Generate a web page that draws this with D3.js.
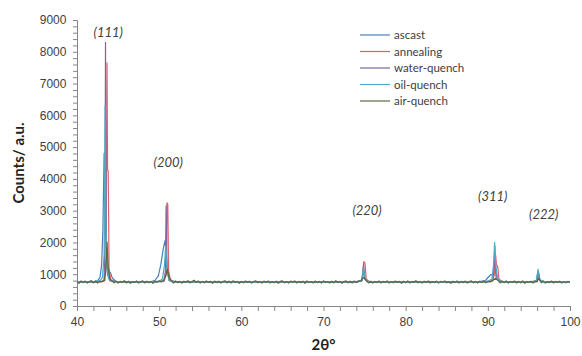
<!DOCTYPE html>
<html>
<head>
<meta charset="utf-8">
<script src="https://cdn.jsdelivr.net/npm/d3@7"></script>
<style>
  body { margin: 0; background: #fff; }
  svg { display: block; }
</style>
</head>
<body>
<svg id="chart"></svg>
<script>
// XRD patterns, [2theta, counts]
const ascast = [
  [40, 745], [41, 765], [42, 755], [42.5, 790], [42.8, 900], [43.0, 1300], [43.15, 2400], [43.3, 4800],
  [43.45, 3000], [43.6, 1500], [43.8, 1050], [44.05, 1060], [44.3, 880], [44.7, 780], [45, 760],
  [46, 745], [47, 770], [48, 750], [49, 760], [49.5, 810], [49.9, 950], [50.2, 1300], [50.5, 1800],
  [50.7, 2050], [50.85, 1700], [51.0, 1100], [51.3, 850], [51.7, 770], [52, 750], [53, 765], [54, 745],
  [55, 770], [56, 740], [57, 760], [58, 750], [59, 775], [60, 745], [61, 760], [62, 740], [63, 770],
  [64, 750], [65, 760], [66, 740], [67, 765], [68, 755], [69, 745], [70, 770], [71, 750], [72, 760],
  [73, 740], [74, 765], [74.6, 800], [74.85, 1050], [75.1, 830], [75.5, 760], [76, 745], [77, 765],
  [78, 740], [79, 760], [80, 750], [81, 770], [82, 745], [83, 760], [84, 740], [85, 765], [86, 750],
  [87, 760], [88, 740], [89, 765], [89.7, 800], [90.1, 920], [90.4, 990], [90.7, 950], [90.85, 1900],
  [91.0, 900], [91.3, 800], [91.8, 760], [92, 750], [93, 765], [94, 740], [95, 760], [95.9, 780],
  [96.1, 1100], [96.3, 800], [97, 745], [98, 765], [99, 740], [100, 745]
];
const annealing = [
  [40, 755], [41, 740], [42, 765], [43, 760], [43.4, 800], [43.55, 1600], [43.65, 7650], [43.72, 4300],
  [43.8, 4250], [43.9, 1200], [44.1, 820], [45, 750], [46, 765], [47, 740], [48, 760], [49, 750],
  [50, 765], [50.6, 780], [50.85, 1000], [50.95, 3250], [51.05, 3200], [51.15, 1100], [51.4, 800],
  [52, 760], [53, 745], [54, 770], [55, 750], [56, 760], [57, 740], [58, 765], [59, 750], [60, 760],
  [61, 745], [62, 770], [63, 740], [64, 760], [65, 750], [66, 765], [67, 740], [68, 760], [69, 750],
  [70, 765], [71, 745], [72, 760], [73, 740], [74, 765], [74.7, 800], [74.9, 1400], [75.05, 1350],
  [75.2, 850], [75.6, 760], [76, 750], [77, 765], [78, 745], [79, 760], [80, 740], [81, 770], [82, 750],
  [83, 760], [84, 745], [85, 765], [86, 740], [87, 760], [88, 750], [89, 765], [90, 760], [90.6, 800],
  [90.8, 1000], [90.95, 1600], [91.05, 1300], [91.2, 1250], [91.35, 850], [91.7, 770], [92, 750],
  [93, 765], [94, 740], [95, 760], [96, 770], [96.2, 1000], [96.35, 800], [97, 750], [98, 760],
  [99, 745], [100, 750]
];
const waterQuench = [
  [40, 750], [41, 765], [42, 745], [43, 770], [43.3, 820], [43.4, 2000], [43.47, 8300], [43.55, 2500],
  [43.7, 1000], [44, 790], [45, 760], [46, 745], [47, 765], [48, 750], [49, 760], [50, 770], [50.6, 800],
  [50.75, 1100], [50.85, 3150], [50.95, 1200], [51.2, 800], [52, 760], [53, 750], [54, 765], [55, 745],
  [56, 760], [57, 750], [58, 770], [59, 740], [60, 760], [61, 750], [62, 765], [63, 745], [64, 760],
  [65, 740], [66, 765], [67, 750], [68, 760], [69, 745], [70, 770], [71, 750], [72, 760], [73, 745],
  [74, 760], [74.7, 800], [74.88, 1300], [75.05, 850], [75.5, 760], [76, 745], [77, 760], [78, 750],
  [79, 765], [80, 745], [81, 760], [82, 750], [83, 770], [84, 740], [85, 760], [86, 750], [87, 765],
  [88, 745], [89, 760], [90, 770], [90.6, 800], [90.85, 1500], [91.0, 1000], [91.3, 800], [92, 760],
  [93, 750], [94, 765], [95, 745], [96, 770], [96.18, 1050], [96.35, 800], [97, 760], [98, 745],
  [99, 760], [100, 750]
];
const oilQuench = [
  [40, 760], [41, 745], [42, 770], [42.8, 790], [43.1, 900], [43.3, 1600], [43.42, 6300], [43.52, 2600],
  [43.65, 1200], [43.9, 850], [44.3, 780], [45, 760], [46, 750], [47, 765], [48, 745], [49, 760],
  [50, 780], [50.4, 850], [50.65, 1300], [50.8, 1900], [50.95, 1100], [51.2, 820], [52, 760],
  [53, 750], [54, 765], [55, 745], [56, 760], [57, 770], [58, 745], [59, 760], [60, 750], [61, 765],
  [62, 745], [63, 760], [64, 750], [65, 770], [66, 745], [67, 760], [68, 750], [69, 765], [70, 745],
  [71, 760], [72, 750], [73, 765], [74, 745], [74.65, 800], [74.85, 1200], [75.0, 900], [75.3, 780],
  [76, 760], [77, 745], [78, 765], [79, 750], [80, 760], [81, 745], [82, 765], [83, 750], [84, 760],
  [85, 745], [86, 770], [87, 750], [88, 760], [89, 745], [90, 780], [90.5, 850], [90.7, 1300],
  [90.82, 2000], [90.95, 1300], [91.2, 850], [91.6, 770], [92, 760], [93, 745], [94, 765], [95, 750],
  [95.9, 790], [96.12, 1150], [96.3, 820], [97, 760], [98, 745], [99, 760], [100, 740]
];
const airQuench = [
  [40, 760], [40.25, 715], [40.5, 790], [40.75, 735], [41, 785], [41.25, 720], [41.5, 770], [41.75, 800],
  [42, 730], [42.25, 790], [42.5, 725], [42.75, 780], [43, 770], [43.3, 800], [43.5, 1100], [43.65, 2000],
  [43.8, 1200], [44, 850], [44.25, 790], [44.5, 730], [44.75, 785], [45, 720], [45.25, 775], [45.5, 745],
  [45.75, 795], [46, 725], [46.25, 780], [46.5, 715], [46.75, 770], [47, 740], [47.25, 790], [47.5, 720],
  [47.75, 765], [48, 790], [48.25, 725], [48.5, 780], [48.75, 730], [49, 775], [49.25, 715], [49.5, 785],
  [49.75, 750], [50, 790], [50.25, 760], [50.5, 790], [50.8, 950], [51.0, 1150], [51.2, 900],
  [51.5, 780], [51.75, 725], [52, 790], [52.25, 735], [52.5, 775], [52.75, 720], [53, 780], [53.25, 745],
  [53.5, 795], [53.75, 725], [54, 770], [54.25, 810], [54.5, 745], [54.75, 790], [55, 720], [55.25, 770],
  [55.5, 730], [55.75, 790], [56, 740], [56.25, 775], [56.5, 715], [56.75, 785], [57, 735], [57.25, 780],
  [57.5, 720], [57.75, 770], [58, 795], [58.25, 730], [58.5, 780], [58.75, 725], [59, 790], [59.25, 740],
  [59.5, 775], [59.75, 715], [60, 770], [60.25, 730], [60.5, 790], [60.75, 745], [61, 780], [61.25, 720],
  [61.5, 770], [61.75, 795], [62, 730], [62.25, 775], [62.5, 720], [62.75, 785], [63, 740], [63.25, 790],
  [63.5, 725], [63.75, 770], [64, 735], [64.25, 780], [64.5, 715], [64.75, 775], [65, 790], [65.25, 730],
  [65.5, 770], [65.75, 720], [66, 785], [66.25, 745], [66.5, 790], [66.75, 725], [67, 775], [67.25, 735],
  [67.5, 780], [67.75, 715], [68, 790], [68.25, 740], [68.5, 770], [68.75, 725], [69, 785], [69.25, 735],
  [69.5, 775], [69.75, 720], [70, 790], [70.25, 745], [70.5, 770], [70.75, 725], [71, 780], [71.25, 730],
  [71.5, 795], [71.75, 740], [72, 775], [72.25, 715], [72.5, 770], [72.75, 790], [73, 730], [73.25, 780],
  [73.5, 725], [73.75, 785], [74, 740], [74.25, 775], [74.5, 790], [74.9, 900], [75.2, 790],
  [75.5, 725], [75.75, 780], [76, 720], [76.25, 770], [76.5, 735], [76.75, 790], [77, 725], [77.25, 775],
  [77.5, 745], [77.75, 790], [78, 720], [78.25, 770], [78.5, 730], [78.75, 785], [79, 740], [79.25, 775],
  [79.5, 715], [79.75, 780], [80, 735], [80.25, 790], [80.5, 725], [80.75, 770], [81, 745], [81.25, 795],
  [81.5, 730], [81.75, 775], [82, 720], [82.25, 780], [82.5, 740], [82.75, 790], [83, 725], [83.25, 770],
  [83.5, 735], [83.75, 785], [84, 720], [84.25, 775], [84.5, 745], [84.75, 790], [85, 730], [85.25, 770],
  [85.5, 715], [85.75, 780], [86, 740], [86.25, 790], [86.5, 725], [86.75, 775], [87, 735], [87.25, 785],
  [87.5, 720], [87.75, 770], [88, 790], [88.25, 730], [88.5, 775], [88.75, 720], [89, 780], [89.25, 740],
  [89.5, 790], [89.75, 730], [90, 775], [90.3, 760], [90.6, 800], [90.9, 870], [91.3, 790],
  [91.5, 725], [91.75, 780], [92, 735], [92.25, 790], [92.5, 720], [92.75, 770], [93, 745], [93.25, 785],
  [93.5, 725], [93.75, 775], [94, 730], [94.25, 790], [94.5, 715], [94.75, 770], [95, 740], [95.25, 780],
  [95.5, 725], [95.75, 785], [96, 770], [96.2, 880], [96.4, 780], [96.5, 730], [96.75, 775], [97, 720],
  [97.25, 770], [97.5, 735], [97.75, 785], [98, 725], [98.25, 775], [98.5, 740], [98.75, 780], [99, 720],
  [99.25, 765], [99.5, 730], [99.75, 775], [100, 740]
];

const seriesNames = ["ascast", "annealing", "water-quench", "oil-quench", "air-quench"];
const seriesData = [ascast, annealing, waterQuench, oilQuench, airQuench];
const seriesColors = ["#4a7ebb", "#e0606a", "#8064a2", "#4bacc6", "#5a6a3e"];

const peakLabels = ["(111)", "(200)", "(220)", "(311)", "(222)"];
const peakPos = [[43.8, 8450], [51.1, 4380], [75.3, 2870], [90.6, 3300], [96.8, 2740]];

const xTicks = [40, 50, 60, 70, 80, 90, 100];
const yTicks = [0, 1000, 2000, 3000, 4000, 5000, 6000, 7000, 8000, 9000];

const width = 582;
const height = 356;
const margin = {top: 20, right: 12, bottom: 50, left: 77};

const svg = d3.select("#chart")
  .attr("width", width)
  .attr("height", height)
  .attr("font-family", "Lato, 'Open Sans', sans-serif");

const x = d3.scaleLinear([40, 100], [margin.left, width - margin.right]);
const y = d3.scaleLinear([0, 9000], [height - margin.bottom, margin.top]);

// x axis with minor ticks every 2 degrees
const xAxis = svg.append("g")
  .attr("transform", `translate(0,${y(0)})`)
  .call(d3.axisBottom(x).tickValues(d3.range(40, 101, 2)).tickSize(5)
    .tickFormat(d => xTicks.includes(d) ? d : ""));
xAxis.select(".domain").attr("stroke", "#868686");
xAxis.selectAll(".tick line").attr("stroke", "#868686");
xAxis.selectAll("text").attr("fill", "#404040").attr("font-size", 12).attr("dy", "1em");

// y axis with minor ticks every 200
const yAxis = svg.append("g")
  .attr("transform", `translate(${x(40)},0)`)
  .call(d3.axisLeft(y).tickValues(d3.range(0, 9001, 200)).tickSize(4)
    .tickFormat(d => yTicks.includes(d) ? d : ""));
yAxis.select(".domain").attr("stroke", "#868686");
yAxis.selectAll(".tick line").attr("stroke", "#868686");
yAxis.selectAll("text").attr("fill", "#404040").attr("font-size", 12).attr("dx", "-0.3em");

const line = d3.line()
  .x(d => x(d[0]))
  .y(d => y(d[1]));

seriesData.forEach((s, i) => {
  svg.append("path")
    .datum(s)
    .attr("fill", "none")
    .attr("stroke", seriesColors[i])
    .attr("stroke-width", 1.2)
    .attr("stroke-linejoin", "round")
    .attr("d", line);
});

// peak labels
peakLabels.forEach((t, i) => {
  svg.append("text")
    .attr("x", x(peakPos[i][0]))
    .attr("y", y(peakPos[i][1]))
    .attr("text-anchor", "middle")
    .attr("font-style", "italic")
    .attr("font-size", 13)
    .attr("fill", "#404040")
    .text(t);
});

// legend
const legend = svg.append("g").attr("transform", "translate(360,35)");
seriesNames.forEach((name, i) => {
  const g = legend.append("g").attr("transform", `translate(0,${i * 16.5})`);
  g.append("line")
    .attr("x1", 0).attr("x2", 30)
    .attr("stroke", seriesColors[i])
    .attr("stroke-width", 1.2);
  g.append("text")
    .attr("x", 34)
    .attr("dy", "0.35em")
    .attr("font-size", 11.5)
    .attr("fill", "#404040")
    .text(name);
});

// axis titles
svg.append("text")
  .attr("x", (x(40) + x(100)) / 2)
  .attr("y", 350)
  .attr("text-anchor", "middle")
  .attr("font-weight", "bold")
  .attr("font-size", 15)
  .attr("fill", "#222")
  .text("2θ°");

svg.append("text")
  .attr("transform", `translate(24,${(y(0) + y(9000)) / 2}) rotate(-90)`)
  .attr("text-anchor", "middle")
  .attr("font-weight", "bold")
  .attr("font-size", 15)
  .attr("fill", "#222")
  .text("Counts/ a.u.");
</script>
</body>
</html>
